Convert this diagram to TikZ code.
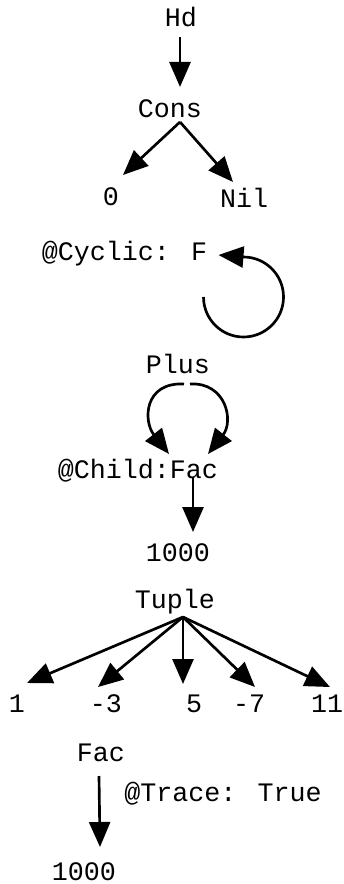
\documentclass[tikz,border=0pt]{standalone}
\usepackage{fontspec}
\setmainfont{Liberation Mono}
\usetikzlibrary{arrows.meta}
\begin{document}
\begin{tikzpicture}[x=0.75pt,y=-0.75pt,
  lbl/.style={anchor=base,inner sep=0pt,font=\fontsize{20}{24}\selectfont},
  arr/.style={line width=2pt,-{Triangle[length=18.75pt,width=15.75pt]}}]
\useasboundingbox (0,0) rectangle (343,884);
% nodes
\node[lbl] (hd) at (181,27) {Hd};
\node[lbl] (cons) at (170,118) {Cons};
\node[lbl] (zero) at (111,205) {0};
\node[lbl] (nil) at (244,208) {Nil};
\node[lbl] (cyc) at (124.5,260) {@Cyclic: F};
\node[lbl] (plus) at (178,373) {Plus};
\node[lbl] (child) at (138,478) {@Child:Fac};
\node[lbl] (ka) at (178,561) {1000};
\node[lbl] (tuple) at (175,608) {Tuple};
\node[lbl] (ta) at (17,712) {1};
\node[lbl] (tb) at (106,712) {-3};
\node[lbl] (tc) at (194,712) {5};
\node[lbl] (td) at (249,712) {-7};
\node[lbl] (te) at (327,712) {11};
\node[lbl] (fac) at (101,761) {Fac};
\node[lbl] (trace) at (223,801) {@Trace: True};
\node[lbl] (kb) at (84,880) {1000};
% connectors
\draw[arr] ([shift={(-1,10)}]hd.base) -- ([shift={(10,-31)}]cons.base);
\draw[arr] ([shift={(10,4)}]cons.base) -- ([shift={(12,-30)}]zero.base);
\draw[arr] ([shift={(10,4)}]cons.base) -- ([shift={(-11,-26)}]nil.base);
\coordinate (loopstart) at ([shift={(79,37)}]cyc.base);
\draw[arr] (loopstart) arc (180:-90:40) -- ([shift={(94,-5)}]cyc.base);
\draw[arr] ([shift={(6,11)}]plus.base) .. controls +(-40,-2) and +(-26,-33) .. ([shift={(31,-24)}]child.base);
\draw[arr] ([shift={(12,11)}]plus.base) .. controls +(36,-2) and +(26,-33) .. ([shift={(70,-24)}]child.base);
\draw[arr] ([shift={(55,-1)}]child.base) -- ([shift={(15,-29)}]ka.base);
\draw[arr] ([shift={(8,9)}]tuple.base) -- ([shift={(10,-29)}]ta.base);
\draw[arr] ([shift={(8,9)}]tuple.base) -- ([shift={(-8,-25)}]tb.base);
\draw[arr] ([shift={(8,9)}]tuple.base) -- ([shift={(-11,-28)}]tc.base);
\draw[arr] ([shift={(8,9)}]tuple.base) -- ([shift={(6,-25)}]td.base);
\draw[arr] ([shift={(8,9)}]tuple.base) -- ([shift={(3,-25)}]te.base);
\draw[arr] ([shift={(-2,15)}]fac.base) -- ([shift={(16,-33)}]kb.base);
\end{tikzpicture}
\end{document}
